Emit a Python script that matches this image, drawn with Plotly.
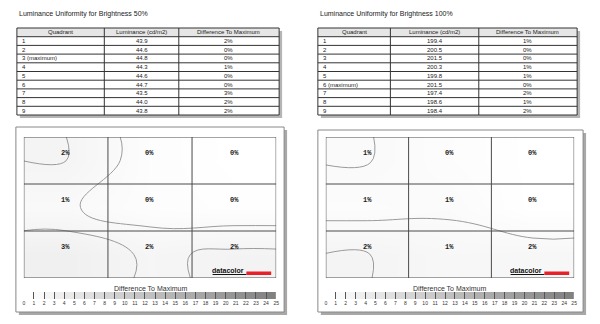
import numpy as np
import plotly.graph_objects as go

# ---------------- data ----------------
quadrants_50 = ["1", "2", "3 (maximum)", "4", "5", "6", "7", "8", "9"]
luminance_50 = [43.9, 44.6, 44.8, 44.3, 44.6, 44.7, 43.5, 44.0, 43.8]
difference_50 = [2, 0, 0, 1, 0, 0, 3, 2, 2]

quadrants_100 = ["1", "2", "3", "4", "5", "6 (maximum)", "7", "8", "9"]
luminance_100 = [199.4, 200.5, 201.5, 200.3, 199.8, 201.5, 197.4, 198.6, 198.4]
difference_100 = [1, 0, 0, 1, 1, 0, 2, 1, 2]

scale_levels = list(range(0, 25))      # colour steps of the scale
scale_ticks = list(range(0, 26))       # tick labels 0..25

titles = ["Luminance Uniformity for Brightness 50%", "Luminance Uniformity for Brightness 100%"]
headers = ["Quadrant", "Luminance (cd/m2)", "Difference To Maximum"]
scale_title = "Difference To Maximum"

W, H = 600, 324
def px(x): return x / W
def py(y): return 1 - y / H

FONT = "Liberation Sans"
CSCALE = [[0, "#ffffff"], [1, "#7c7c7c"]]

fig = go.Figure()

panels = [
    dict(q=quadrants_50, lum=luminance_50, diff=difference_50,
         title_x=16, cols=[16, 104, 179, 280],
         frame=(15, 127, 285, 312), grid=(23, 277), ax=("x", "y"), sax=("x3", "y3")),
    dict(q=quadrants_100, lum=luminance_100, diff=difference_100,
         title_x=319, cols=[319, 392, 481, 580],
         frame=(319, 130, 586, 312), grid=(327, 577), ax=("x2", "y2"), sax=("x4", "y4")),
]

shapes = []
annotations = []
GRID_TOP, GRID_BOT = 137, 278
TAB_TOP, ROW_H = 28, 8.7
TAB_BOT = TAB_TOP + 10 * ROW_H
BAR_TOP, BAR_BOT = 292, 299

def txt(text, x, y, anchor="center", size=6, color="#222", family=FONT, xref="paper", yref="paper"):
    annotations.append(dict(text=text, x=x, y=y, xref=xref, yref=yref, xanchor=anchor, yanchor="middle",
                            showarrow=False, font=dict(family=family, size=size, color=color)))

for i, p in enumerate(panels):
    # title
    txt(titles[i], px(p["title_x"]), py(14), anchor="left", size=7)

    # ---- table ----
    c = p["cols"]
    shapes.append(dict(type="rect", xref="paper", yref="paper", x0=px(c[0] + 3), x1=px(c[-1] + 3),
                       y0=py(TAB_BOT + 3), y1=py(TAB_TOP + 3), fillcolor="#b5b5b5", line_width=0, layer="below"))
    shapes.append(dict(type="rect", xref="paper", yref="paper", x0=px(c[0]), x1=px(c[-1]),
                       y0=py(TAB_BOT), y1=py(TAB_TOP), fillcolor="white", line_width=0, layer="below"))
    shapes.append(dict(type="rect", xref="paper", yref="paper", x0=px(c[0]), x1=px(c[-1]),
                       y0=py(TAB_TOP + ROW_H), y1=py(TAB_TOP), fillcolor="#e6e6e6", line_width=0, layer="below"))
    for r in range(11):
        yy = TAB_TOP + r * ROW_H
        shapes.append(dict(type="line", xref="paper", yref="paper", x0=px(c[0]), x1=px(c[-1]),
                           y0=py(yy), y1=py(yy), line=dict(color="#333", width=1)))
    for xx in c:
        shapes.append(dict(type="line", xref="paper", yref="paper", x0=px(xx), x1=px(xx),
                           y0=py(TAB_BOT), y1=py(TAB_TOP), line=dict(color="#333", width=1)))
    for k, h in enumerate(headers):
        txt(h, px((c[k] + c[k + 1]) / 2), py(TAB_TOP + ROW_H / 2))
    for r in range(9):
        yc = py(TAB_TOP + (r + 1.5) * ROW_H)
        txt(p["q"][r], px(c[0] + 3), yc, anchor="left")
        txt(f"{p['lum'][r]:.1f}", px((c[1] + c[2]) / 2), yc)
        txt(f"{p['diff'][r]}%", px((c[2] + c[3]) / 2), yc)

    # ---- frame with shadow ----
    fx0, fy0, fx1, fy1 = p["frame"]
    shapes.append(dict(type="rect", xref="paper", yref="paper", x0=px(fx0 + 3), x1=px(fx1 + 3),
                       y0=py(fy1 + 3), y1=py(fy0 + 3), fillcolor="#a8a8a8", line_width=0, layer="below"))
    shapes.append(dict(type="rect", xref="paper", yref="paper", x0=px(fx0), x1=px(fx1),
                       y0=py(fy1), y1=py(fy0), fillcolor="white", line=dict(color="#888", width=1), layer="below"))

    # ---- contour map from luminance ----
    lum = np.array(p["lum"]).reshape(3, 3)
    dz = (lum.max() - lum) / lum.max() * 100
    zp = np.pad(dz, 1, mode="edge")
    coords = [0, 0.5, 1.5, 2.5, 3]
    xa, ya = p["ax"]
    gx0, gx1 = p["grid"]
    fig.add_trace(go.Contour(
        z=zp, x=coords, y=coords, xaxis=xa, yaxis=ya,
        zmin=0, zmax=25, colorscale=CSCALE, showscale=False,
        contours=dict(coloring="heatmap", start=1, end=3, size=1, showlines=True),
        line=dict(color="#9a9a9a", width=1, smoothing=1.3),
        hoverinfo="skip",
    ))
    for k in range(4):
        shapes.append(dict(type="line", xref=xa, yref=ya, x0=k, x1=k, y0=0, y1=3,
                           line=dict(color="#4a4a4a", width=1), layer="above"))
        shapes.append(dict(type="line", xref=xa, yref=ya, x0=0, x1=3, y0=k, y1=k,
                           line=dict(color="#4a4a4a", width=1), layer="above"))
    for idx, d in enumerate(p["diff"]):
        r, cc = divmod(idx, 3)
        txt(f"<b>{d}%</b>", cc + 0.5, r + 0.35, size=7, family="Liberation Mono", color="#222", xref=xa, yref=ya)

    # logo
    txt("<b>datacolor</b>", px(gx1 - 30), py(270.5), anchor="right", size=7, color="#111")
    shapes.append(dict(type="line", xref="paper", yref="paper", x0=px(gx1 - 64), x1=px(gx1 - 30),
                       y0=py(274.5), y1=py(274.5), line=dict(color="#111", width=1), layer="above"))
    shapes.append(dict(type="rect", xref="paper", yref="paper", x0=px(gx1 - 30), x1=px(gx1 - 5),
                       y0=py(275), y1=py(271.5), fillcolor="#e8202a", line_width=0, layer="above"))

    # ---- stepped scale ----
    sx, sy = p["sax"]
    fig.add_trace(go.Heatmap(
        z=[scale_levels], x=scale_ticks, y=[0, 1], xaxis=sx, yaxis=sy,
        zmin=0, zmax=25, colorscale=CSCALE, showscale=False, hoverinfo="skip",
    ))
    txt(scale_title, px((gx0 + gx1) / 2), py(288), size=7, color="#333")

axis_common = dict(range=[0, 3], visible=False, fixedrange=True)
scale_axis = dict(range=[0, 25], tickvals=scale_ticks, ticks="inside", ticklen=BAR_BOT - BAR_TOP,
                  tickcolor="#555", tickwidth=1, showgrid=False, zeroline=False, showline=False,
                  tickfont=dict(family=FONT, size=5, color="#333"), fixedrange=True)
scale_y = dict(range=[0, 1], visible=False, fixedrange=True, domain=[py(BAR_BOT), py(BAR_TOP)])
fig.update_layout(
    width=W, height=H, margin=dict(l=0, r=0, t=0, b=0),
    paper_bgcolor="white", plot_bgcolor="white", showlegend=False,
    xaxis=dict(domain=[px(23), px(277)], anchor="y", **axis_common),
    yaxis=dict(domain=[py(GRID_BOT), py(GRID_TOP)], anchor="x", autorange=False, **{**axis_common, "range": [3, 0]}),
    xaxis2=dict(domain=[px(327), px(577)], anchor="y2", **axis_common),
    yaxis2=dict(domain=[py(GRID_BOT), py(GRID_TOP)], anchor="x2", autorange=False, **{**axis_common, "range": [3, 0]}),
    xaxis3=dict(domain=[px(23), px(277)], anchor="y3", **scale_axis),
    yaxis3=dict(anchor="x3", **scale_y),
    xaxis4=dict(domain=[px(327), px(577)], anchor="y4", **scale_axis),
    yaxis4=dict(anchor="x4", **scale_y),
    shapes=shapes, annotations=annotations,
)

fig.write_html("out.html")
